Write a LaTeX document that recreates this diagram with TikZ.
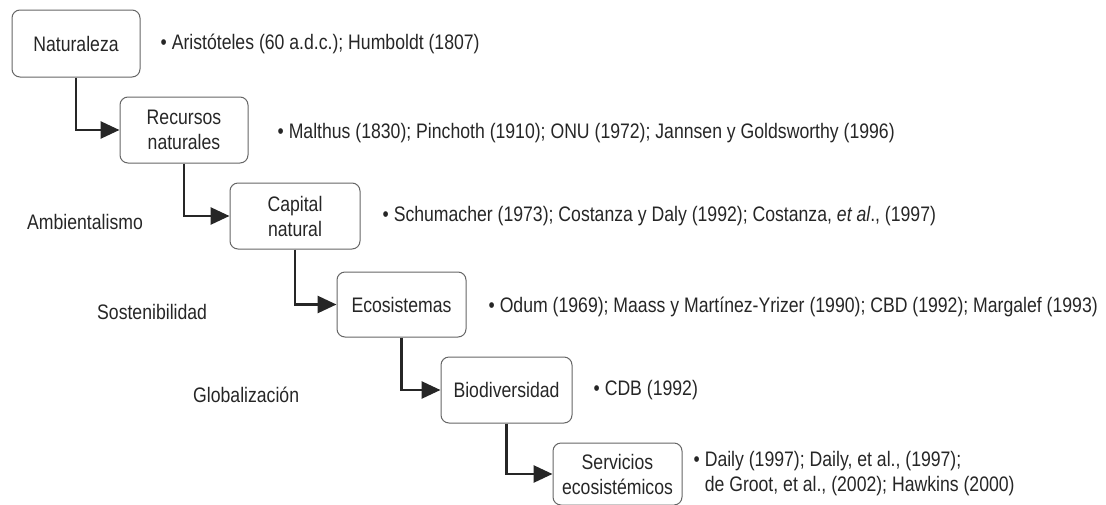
\documentclass[tikz,border=0pt]{standalone}
\usepackage{fontspec}
\setmainfont{Liberation Sans}[FakeStretch=0.84]
\usepackage{tikz}
\usetikzlibrary{positioning,arrows.meta}

\begin{document}
\begin{tikzpicture}[x=1pt,y=-1pt]
				\tikzset{every node/.style={font=\fontsize{21}{25}\selectfont,text=black!85}}
				\tikzset{concepto/.style={draw=black!60,line width=1pt,rounded corners=8pt,align=center,minimum width=128pt,minimum height=66pt,inner sep=2pt}}
				\tikzset{cita/.style={anchor=west,inner sep=0pt,align=left}}
				\tikzset{etapa/.style={anchor=west,inner sep=0pt}}
				\tikzset{flecha/.style={draw=black!85,line width=2.8pt,-{Triangle[length=19pt,width=17pt]}}}
				\useasboundingbox (0,0) rectangle (1106,504);
				% conceptos
				\node[concepto,minimum height=67pt] (naturaleza) at (76,43.5) {Naturaleza};
				\node[concepto] (recursos) at (184,130) {Recursos\\naturales};
				\node[concepto,minimum width=130pt] (capital) at (295,216) {Capital\\natural};
				\node[concepto,minimum width=129pt,minimum height=65pt] (ecosistemas) at (401.5,304.5) {Ecosistemas};
				\node[concepto,minimum width=131pt] (biodiversidad) at (506.5,390) {Biodiversidad};
				\node[concepto,minimum width=129pt,minimum height=62pt] (servicios) at (617.5,474) {Servicios\\ecosistémicos};
				% autores
				\node[cita,right=20pt of naturaleza] (c1) {• Aristóteles (60 a.d.c.); Humboldt (1807)};
				\node[cita,right=29pt of recursos,yshift=-3pt] (c2) {• Malthus (1830); Pinchoth (1910); ONU (1972); Jannsen y Goldsworthy (1996)};
				\node[cita,right=22pt of capital] (c3) {• Schumacher (1973); Costanza y Daly (1992); Costanza, \textit{et al}., (1997)};
				\node[cita,right=22pt of ecosistemas,yshift=-2pt] (c4) {• Odum (1969); Maass y Martínez-Yrizer (1990); CBD (1992); Margalef (1993)};
				\node[cita,right=21pt of biodiversidad] (c5) {• CDB (1992)};
				\node[cita,right=11pt of servicios] (c6) {• Daily (1997); Daily, et al., (1997);\\\phantom{•\ }de Groot, et al., (2002); Hawkins (2000)};
				% etapas
				\node[etapa] (ambientalismo) at (27,222) {Ambientalismo};
				\node[etapa] (sostenibilidad) at (97,312) {Sostenibilidad};
				\node[etapa] (globalizacion) at (193,395) {Globalización};
				% flechas
				\draw[flecha] (naturaleza) |- (recursos);
				\draw[flecha] (recursos) |- (capital);
				\draw[flecha] (capital) |- (ecosistemas);
				\draw[flecha] (ecosistemas) |- (biodiversidad);
				\draw[flecha] (biodiversidad) |- (servicios);
			\end{tikzpicture}
\end{document}
